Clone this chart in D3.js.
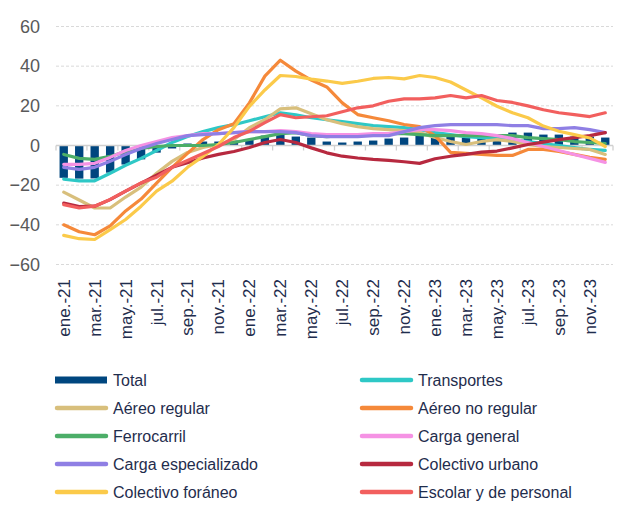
<!DOCTYPE html>
<html><head><meta charset="utf-8">
<script src="https://cdn.jsdelivr.net/npm/d3@7"></script>
<style>body{margin:0;background:#fff}svg{display:block;font-family:Arial,"Liberation Sans",sans-serif}</style>
</head><body>
<svg id="c" width="627" height="506"></svg>
<script>
const months = ["ene.-21","feb.-21","mar.-21","abr.-21","may.-21","jun.-21","jul.-21","ago.-21","sep.-21","oct.-21","nov.-21","dic.-21",
"ene.-22","feb.-22","mar.-22","abr.-22","may.-22","jun.-22","jul.-22","ago.-22","sep.-22","oct.-22","nov.-22","dic.-22",
"ene.-23","feb.-23","mar.-23","abr.-23","may.-23","jun.-23","jul.-23","ago.-23","sep.-23","oct.-23","nov.-23","dic.-23"];
const yTicks = [-60,-40,-20,0,20,40,60];

const total = [-16.3,-16.7,-16.6,-13.7,-9.6,-7,-3.6,-1.5,1,2,2,2.5,3,5,6.5,4.5,4,2,1.5,2,2.5,3.5,4,5.5,5.5,4.5,4,4,4.5,6.5,6.5,5.5,5.5,4.5,4.5,4];
const transportes = [-17,-17.8,-17.8,-14,-10,-6.5,-2.5,1.5,4.5,7,9,10.5,12.5,14.5,16.5,15.5,14,13,12,11,10,9.5,9,8,6.5,5.5,4.5,4,3.5,3,2,1,0,-1,-2,-2.5];
const aereoRegular = [-23.5,-27.5,-31.5,-31.5,-26,-21,-14,-8,-3.5,-1,0.5,3,9,13,18.5,19,16,13,11,9.5,8.5,8,7.5,6.5,4,2,0.5,2,3,2,0.5,-0.5,-1,-1.5,-2,-4.5];
const aereoNoRegular = [-40,-43.5,-45,-40.5,-33,-27,-19,-11,-4,3,8,11,21.5,35,43,37.5,33,29.5,21.5,15.6,14,12.5,10.6,9.5,5,-3.5,-4,-4.5,-5,-5,-2,-2,-3,-4.5,-6,-7];
const ferrocarril = [-4.5,-6.5,-7,-5.5,-3,-1.5,-0.5,0,0,0,0.5,1.5,3,4.5,6,6.5,5,4.5,5,5.5,5.5,6,6,5.5,5,5,5,5,5,5,4,3.5,3,2,1.5,1];
const cargaGeneral = [-9.5,-9.5,-9,-6,-2.5,0,2,4,5,6,6,6.5,7,7,7.5,7,6,5.5,5.5,5.5,6,6,7,8,8,7.5,6.5,6,5,3.5,1.5,-0.5,-2.5,-4.5,-6.5,-8.5];
const cargaEspecializado = [-11,-12,-11,-8,-4.5,-1.5,1,3,5,5.5,6,6.5,7,7,7,6.5,5,4.5,4.5,4.5,5,5,7,9,10,10.5,10.5,10.5,10.5,10,10,8.5,8.5,9,8,6.5];
const colectivoUrbano = [-29,-30.8,-30.6,-27.3,-23,-19,-15,-11,-8.7,-6.3,-4.5,-3,-1,1.5,3,1.5,-1.2,-3.7,-5.4,-6.3,-7,-7.5,-8.2,-9,-6.7,-5.4,-4.5,-3.3,-2.8,-1.2,0.5,1.7,3,4,5,6.5];
const colectivoForaneo = [-45.3,-47,-47.4,-42.4,-37.3,-30.6,-23,-18,-11,-5.5,0.5,9,19.7,28,35.3,34.8,33.5,32.5,31.3,32.4,33.8,34.3,33.6,35.3,34.3,32,28,24,19.8,16.5,14,9.8,7.2,5.5,3.8,-0.5];
const escolar = [-29.8,-31.5,-30.6,-27.2,-23,-18.8,-16,-11,-7.6,-4,-0.5,4,7.2,11.5,15.6,14,14.5,15,17,19,20,22.3,23.5,23.5,24,25.2,24,25.2,22.7,21.7,20,18,16.5,15.6,14.6,16.5];

const lineSeries = [
  {name:"Transportes", values:transportes, color:"#2EC8C6"},
  {name:"Aéreo regular", values:aereoRegular, color:"#D8BF7C"},
  {name:"Aéreo no regular", values:aereoNoRegular, color:"#F5893A"},
  {name:"Ferrocarril", values:ferrocarril, color:"#4CAE68"},
  {name:"Carga general", values:cargaGeneral, color:"#F592E4"},
  {name:"Carga especializado", values:cargaEspecializado, color:"#8F7FE4"},
  {name:"Colectivo urbano", values:colectivoUrbano, color:"#B7293F"},
  {name:"Colectivo foráneo", values:colectivoForaneo, color:"#FBCA4A"},
  {name:"Escolar y de personal", values:escolar, color:"#F25F5E"}
];
const totalColor = "#00467F";
const FONT = "Arial, 'Liberation Sans', sans-serif";

const svg = d3.select("#c");
const x = d3.scaleBand().domain(months).range([56, 613]).paddingInner(0.46).paddingOuter(0.23);
const xc = d => x(d) + x.bandwidth()/2;
const y = d3.scaleLinear().domain([-60, 60]).range([264.5, 26.5]);

// gridlines
svg.append("g").selectAll("line").data(yTicks.filter(t => t !== 0)).join("line")
  .attr("x1", 56).attr("x2", 613).attr("y1", d => y(d)).attr("y2", d => y(d))
  .attr("stroke", "#D9D9D9").attr("stroke-width", 1).attr("stroke-dasharray", "3,2");

// y labels
const yAxis = d3.axisLeft(y).tickValues(yTicks).tickSize(0).tickPadding(0);
const gy = svg.append("g").attr("transform", "translate(40,0)").call(yAxis);
gy.select(".domain").remove();
gy.selectAll("text").attr("fill", "#595959").attr("font-size", 18).attr("font-family", FONT);

// bars
svg.append("g").selectAll("rect").data(total).join("rect")
  .attr("x", (d,i) => x(months[i]))
  .attr("width", x.bandwidth())
  .attr("y", d => y(Math.max(0, d)))
  .attr("height", d => Math.abs(y(d) - y(0)))
  .attr("fill", totalColor);

// zero axis with ticks every 2 months
const zeroG = svg.append("g");
zeroG.append("line").attr("x1", 56).attr("x2", 613).attr("y1", y(0)).attr("y2", y(0))
  .attr("stroke", "#D0D0D0").attr("stroke-width", 1.3);
const boundaries = d3.range(0, months.length + 1, 2).map(i => 56 + i * (557 / months.length));
zeroG.selectAll("line.t").data(boundaries).join("line").attr("class","t")
  .attr("x1", d => d).attr("x2", d => d).attr("y1", y(0)).attr("y2", y(0) + 5)
  .attr("stroke", "#D0D0D0").attr("stroke-width", 1.3);

// lines
const line = d3.line().x((d,i) => xc(months[i])).y(d => y(d));
svg.append("g").selectAll("path").data(lineSeries).join("path")
  .attr("d", d => line(d.values))
  .attr("fill", "none").attr("stroke", d => d.color)
  .attr("stroke-width", 3.2).attr("stroke-linejoin", "round").attr("stroke-linecap", "round");

// x labels (every 2 months)
const xAxis = d3.axisBottom(x).tickValues(months.filter((m,i) => i % 2 === 0)).tickSize(0);
const gx = svg.append("g").attr("transform", "translate(0,279)").call(xAxis);
gx.select(".domain").remove();
gx.selectAll("text")
  .attr("transform", "rotate(-90)")
  .attr("text-anchor", "end").attr("dy", "0.35em").attr("x", 0).attr("y", 0)
  .attr("fill", "#1F2D4D").attr("font-size", 17).attr("font-family", FONT);

// legend
const legendItems = [{name:"Total", color:totalColor, bar:true}].concat(lineSeries);
const lg = svg.append("g");
legendItems.forEach((it, i) => {
  const col = i % 2, row = Math.floor(i / 2);
  const lx = col === 0 ? 55 : 360, ly = 380 + row * 28;
  if (it.bar) {
    lg.append("rect").attr("x", lx).attr("y", ly - 3.5).attr("width", 52).attr("height", 7).attr("fill", it.color);
  } else {
    lg.append("line").attr("x1", lx + 2).attr("x2", lx + 51).attr("y1", ly).attr("y2", ly)
      .attr("stroke", it.color).attr("stroke-width", 4.5).attr("stroke-linecap", "round");
  }
  lg.append("text").attr("x", lx + 58).attr("y", ly).attr("dy", "0.35em")
    .attr("fill", "#1F2D4D").attr("font-size", 16).attr("font-family", FONT).text(it.name);
});
</script>
</body></html>
